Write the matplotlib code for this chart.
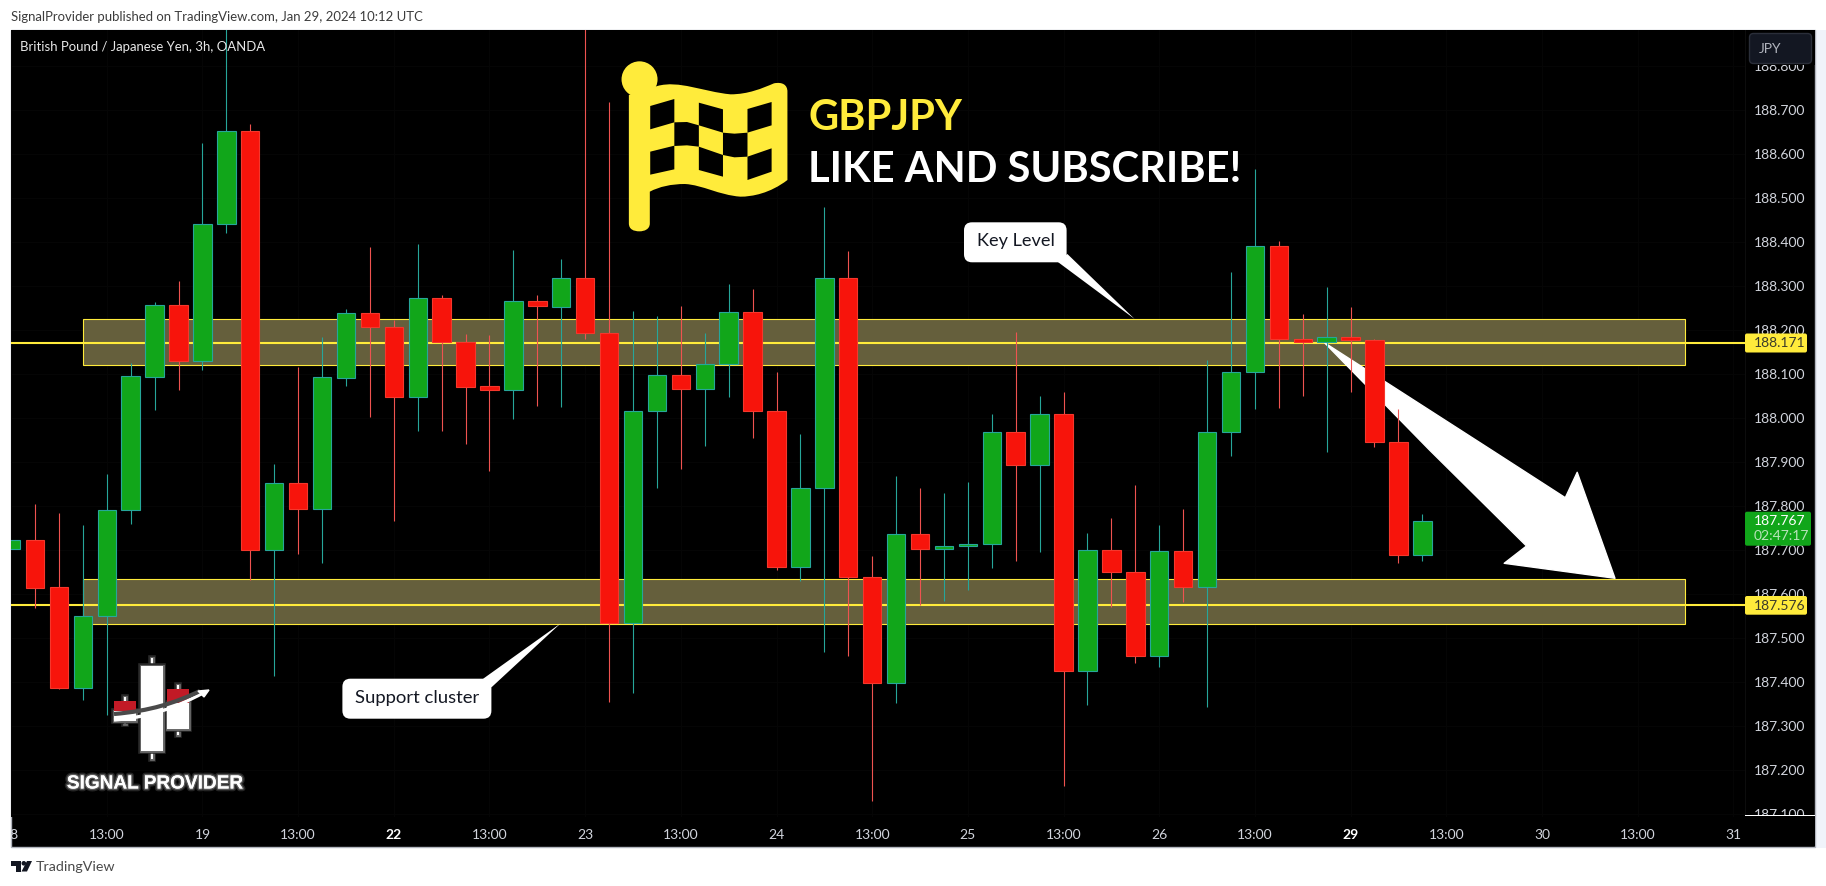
import matplotlib
matplotlib.use("Agg")
import matplotlib.pyplot as plt
import matplotlib.patheffects as pe
from matplotlib.patches import Rectangle, Polygon, FancyBboxPatch, Circle, PathPatch
from matplotlib.path import Path
from matplotlib.transforms import Affine2D, Bbox, TransformedBbox, IdentityTransform

W, H = 1826, 886

# 3h candles, one row per bar
opens = [187.703, 187.723, 187.616, 187.387, 187.549, 187.792, 188.094, 188.258, 188.130, 188.440,
         188.652, 187.701, 187.852, 187.794, 188.092, 188.238, 188.206, 188.048, 188.272, 188.173,
         188.072, 188.064, 188.265, 188.253, 188.318, 188.193, 187.535, 188.015, 188.097, 188.065,
         188.122, 188.240, 188.017, 187.662, 187.840, 188.318, 187.639, 187.398, 187.736, 187.703,
         187.708, 187.713, 187.968, 187.894, 188.008, 187.424, 187.699, 187.651, 187.460, 187.697,
         187.615, 187.968, 188.104, 188.392, 188.179, 188.173, 188.183, 188.177, 187.945, 187.689]
closes = [187.723, 187.614, 187.387, 187.549, 187.792, 188.095, 188.258, 188.130, 188.440, 188.652,
          187.701, 187.852, 187.794, 188.093, 188.238, 188.206, 188.048, 188.272, 188.173, 188.071,
          188.064, 188.265, 188.254, 188.318, 188.193, 187.535, 188.015, 188.097, 188.065, 188.122,
          188.240, 188.017, 187.662, 187.840, 188.318, 187.639, 187.398, 187.736, 187.703, 187.708,
          187.713, 187.968, 187.894, 188.008, 187.424, 187.699, 187.651, 187.460, 187.697, 187.615,
          187.968, 188.104, 188.392, 188.179, 188.173, 188.183, 188.177, 187.945, 187.689, 187.767]
highs = [187.723, 187.805, 187.784, 187.757, 187.873, 188.124, 188.264, 188.311, 188.625, 188.950,
         188.668, 187.895, 188.116, 188.184, 188.248, 188.389, 188.223, 188.395, 188.280, 188.191,
         188.189, 188.382, 188.280, 188.361, 188.950, 188.718, 188.243, 188.232, 188.255, 188.194,
         188.305, 188.293, 188.105, 187.964, 188.480, 188.380, 187.686, 187.868, 187.841, 187.830,
         187.855, 188.009, 188.195, 188.050, 188.059, 187.739, 187.773, 187.848, 187.757, 187.793,
         188.132, 188.332, 188.566, 188.402, 188.236, 188.298, 188.252, 188.180, 188.020, 187.782]
lows = [187.703, 187.569, 187.384, 187.358, 187.325, 187.760, 188.018, 188.064, 188.109, 188.421,
        187.631, 187.414, 187.691, 187.671, 188.073, 188.003, 187.766, 187.970, 187.970, 187.941,
        187.880, 187.998, 188.027, 188.025, 188.180, 187.355, 187.376, 187.842, 187.885, 187.937,
        188.048, 187.955, 187.655, 187.630, 187.467, 187.460, 187.130, 187.353, 187.575, 187.585,
        187.610, 187.658, 187.676, 187.696, 187.164, 187.348, 187.571, 187.444, 187.435, 187.582,
        187.344, 187.914, 188.021, 188.023, 188.051, 187.923, 188.060, 187.935, 187.671, 187.676]

x_ticks = list(range(0, 73, 4))
x_labels = ["18", "13:00", "19", "13:00", "22", "13:00", "23", "13:00", "24", "13:00",
            "25", "13:00", "26", "13:00", "29", "13:00", "30", "13:00", "31"]
y_ticks = [187.1, 187.2, 187.3, 187.4, 187.5, 187.6, 187.7, 187.8, 187.9, 188.0,
           188.1, 188.2, 188.3, 188.4, 188.5, 188.6, 188.7, 188.8]

zone_high = [188.224, 187.633]
zone_low = [188.121, 187.531]
zone_start = 3
zone_end = 70
levels = [188.171, 187.576]
last_price = 187.767

YELLOW = "#ffeb3b"
GREEN = "#11a61a"
RED = "#f7140b"
FONT = "Lato"

plt.rcParams["font.family"] = FONT

fig = plt.figure(figsize=(W / 100, H / 100), dpi=100, facecolor="white")
# pixel coordinates of the picture, y going down, for everything that is not price data
PX = Affine2D().scale(1, -1).translate(0, H)

fig.add_artist(Rectangle((1815, 30), 11, 818, transform=PX, fc="#f0f3fa", ec="none", zorder=-3))
fig.add_artist(Rectangle((10.5, 30), 1804.5, 816.5, transform=PX, fc="black", ec="#b2b5be", lw=1, zorder=-2))

ax = fig.add_axes([11 / W, (H - 817) / H, 1734 / W, 787 / H], facecolor="black", zorder=1)
for s in ax.spines.values():
    s.set_visible(False)

ids = list(range(len(opens)))
up = [c > o for o, c in zip(opens, closes)]
ax.vlines(ids, lows, highs, colors=["#26a69a" if u else "#ef5350" for u in up], lw=0.8, zorder=3)
ax.bar(ids, [c - o for o, c in zip(opens, closes)], bottom=opens, width=0.77,
       color=[GREEN if u else RED for u in up],
       edgecolor=["#26a69a" if u else "#f5372c" for u in up], linewidth=0.8, zorder=4)

for hi, lo in zip(zone_high, zone_low):
    ax.add_patch(Rectangle((zone_start, lo), zone_end - zone_start, hi - lo,
                           fc="#655f3c", ec=YELLOW, lw=0.8, zorder=1))
for lv in levels:
    ax.axhline(lv, color=YELLOW, lw=1.5, zorder=2)

# big white arrow, under the candles
arrow = [(1324.5, 342.7), (1491.4, 450), (1565.3, 497.7), (1577.2, 472.3), (1615, 578.3),
         (1504.2, 563.3), (1526.5, 546), (1429.5, 450)]
ax.add_patch(Polygon(arrow, closed=True, transform=PX, fc="white", ec="white", lw=1, joinstyle="round", zorder=2.5))

ax.set_xlim(-0.004, 72.49)
ax.set_ylim(187.093, 188.882)
ax.grid(True, color="#050505", lw=1)
ax.set_axisbelow(True)

ax.set_xticks(x_ticks)
ax.set_xticklabels(x_labels, fontsize=10, color="#d1d4dc")
ax.yaxis.tick_right()
ax.set_yticks(y_ticks)
ax.set_yticklabels(["%.3f" % v for v in y_ticks], fontsize=10, color="#d1d4dc")
ax.tick_params(axis="x", length=0, pad=8.7)
ax.tick_params(axis="y", length=0, pad=6.2)
for lab in ax.get_xticklabels():
    if lab.get_text() in ("22", "29"):
        lab.set_fontweight("bold")
        lab.set_color("white")
first = ax.get_xticklabels()[0]
first.set_clip_on(True)
first.set_clip_box(TransformedBbox(Bbox([[11, 0], [W, H]]), IdentityTransform()))


def add(artist, z=6):
    artist.set_zorder(z)
    fig.add_artist(artist)
    return artist


def label(x, y, s, z=8, **kw):
    kw.setdefault("ha", "left")
    kw.setdefault("va", "center")
    return fig.text(x, y, s, transform=PX, zorder=z, **kw)


# clipped ends of the price scale, separators
add(Rectangle((1745, 30), 70, 35, transform=PX, fc="black", ec="none"), 5)
add(Rectangle((1745, 815), 70, 31, transform=PX, fc="black", ec="none"), 5)
add(Rectangle((1745, 814.5), 70, 1, transform=PX, fc="white", ec="none"), 5.5)
add(Rectangle((1745, 30), 0.8, 786, transform=PX, fc="#0d0d0d", ec="none"), 5)
add(Rectangle((11, 816.5), 1734, 0.8, transform=PX, fc="#0d0d0d", ec="none"), 5)

# JPY button
add(FancyBboxPatch((1752, 36), 57, 25, boxstyle="round,pad=2.5,rounding_size=4", transform=PX,
                   fc="#131722", ec="#2a2e39", lw=1))
label(1759, 48.7, "JPY", fontsize=10, color="#b2b5be")

# price tags
add(FancyBboxPatch((1745, 333.5), 62, 19, boxstyle="round,pad=0,rounding_size=2", transform=PX, fc=YELLOW, ec="none"))
label(1754, 343.2, "188.171", fontsize=10, color="#3a3a2a")
add(FancyBboxPatch((1745, 596), 62, 18.7, boxstyle="round,pad=0,rounding_size=2", transform=PX, fc=YELLOW, ec="none"))
label(1754, 605.5, "187.576", fontsize=10, color="#3a3a2a")
add(FancyBboxPatch((1745, 511.7), 66, 34, boxstyle="round,pad=0,rounding_size=2", transform=PX, fc=GREEN, ec="none"))
label(1754, 521.3, "%.3f" % last_price, fontsize=10, color="white")
label(1753.5, 536.3, "02:47:17", fontsize=10, color="#b9e4bb")

# header, footer
label(11, 16.7, "SignalProvider published on TradingView.com, Jan 29, 2024 10:12 UTC", fontsize=9.45, color="#3c3c3c")
label(20, 46.7, "British Pound / Japanese Yen, 3h, OANDA", fontsize=9.45, color="#e8e8e8")
label(36, 867, "TradingView", fontsize=10.3, color="#4a4a4a")
add(Polygon([(11, 861), (21, 861), (21, 871.5), (16, 871.5), (16, 866), (11, 866)], transform=PX, fc="#131722", ec="none"))
add(Polygon([(27, 861), (32, 861), (27, 871.5), (21.5, 871.5)], transform=PX, fc="#131722", ec="none"))
add(Circle((23.8, 863.3), 2.3, transform=PX, fc="#131722", ec="none"))


def fz(x, y):
    return (600 + x / 2.529, y / 3)


outer = [
    (Path.MOVETO, fz(73, 285)), (Path.LINETO, fz(145, 258)),
    (Path.CURVE4, fz(200, 240)), (Path.CURVE4, fz(260, 275)), (Path.CURVE4, fz(330, 283)),
    (Path.CURVE4, fz(375, 283)), (Path.CURVE4, fz(410, 265)), (Path.CURVE4, fz(440, 250)),
    (Path.CURVE4, fz(462, 245)), (Path.CURVE4, fz(474, 255)), (Path.CURVE4, fz(474, 275)),
    (Path.LINETO, fz(474, 540)),
    (Path.CURVE4, fz(430, 580)), (Path.CURVE4, fz(385, 590)), (Path.CURVE4, fz(355, 590)),
    (Path.CURVE4, fz(300, 585)), (Path.CURVE4, fz(260, 555)), (Path.CURVE4, fz(215, 552)),
    (Path.CURVE4, fz(180, 552)), (Path.CURVE4, fz(150, 560)), (Path.CURVE4, fz(126, 575)),
    (Path.LINETO, fz(126, 670)),
    (Path.CURVE4, fz(126, 688)), (Path.CURVE4, fz(112, 694)), (Path.CURVE4, fz(100, 694)),
    (Path.CURVE4, fz(85, 694)), (Path.CURVE4, fz(73, 688)), (Path.CURVE4, fz(73, 670)),
    (Path.CLOSEPOLY, fz(73, 285)),
]
add(PathPatch(Path([p for c, p in outer], [c for c, p in outer]), transform=PX, fc=YELLOW, ec="none"))
add(Circle(fz(100, 238), 18, transform=PX, fc=YELLOW, ec="none"))
cells = [
    [(127, 318), (188, 297), (188, 367), (127, 388)],
    [(250, 308), (311, 328), (311, 398), (250, 376)],
    [(373, 327), (434, 306), (434, 376), (373, 398)],
    [(188, 367), (220, 366), (250, 376), (250, 440), (220, 436), (188, 438)],
    [(311, 398), (340, 401), (373, 398), (373, 470), (340, 472), (311, 465)],
    [(127, 455), (188, 437), (188, 508), (127, 524)],
    [(250, 440), (311, 465), (311, 530), (250, 510)],
    [(373, 470), (434, 445), (434, 515), (373, 540)],
]
for c in cells:
    add(Polygon([fz(*p) for p in c], transform=PX, fc="black", ec="none"), 7)

label(808, 117.5, "GBPJPY", fontsize=30, fontweight="bold", color=YELLOW)
label(808, 169.5, "LIKE AND SUBSCRIBE!", fontsize=30, fontweight="bold", color="white")

# callouts
add(FancyBboxPatch((970, 228.3), 90.6, 28, boxstyle="round,pad=6,rounding_size=8", transform=PX, fc="white", ec="none"))
add(Polygon([(1057.9, 262), (1067.4, 254), (1134.6, 319)], transform=PX, fc="white", ec="none"))
label(1015.5, 241, "Key Level", ha="center", fontsize=13.1, color="#131722")
add(FancyBboxPatch((348.4, 684.7), 137, 28, boxstyle="round,pad=6,rounding_size=8", transform=PX, fc="white", ec="none"))
add(Polygon([(483.2, 678.7), (491.5, 687.3), (560.7, 623.3)], transform=PX, fc="white", ec="none"))
label(417, 698, "Support cluster", ha="center", fontsize=13.3, color="#131722")

# SIGNAL PROVIDER logo, soft edge from two wider strokes under the white shapes
glow = [pe.withStroke(linewidth=4, foreground="#2a2a2a"), pe.withStroke(linewidth=2, foreground="#6a6a6a")]
for x, y0, y1 in [(151.8, 658, 759), (125, 697, 724), (178, 685, 735)]:
    add(Rectangle((x - 1, y0), 2, y1 - y0, transform=PX, fc="white", ec="none", path_effects=glow), 5.9)
for x, y, w, h in [(113.9, 711, 22.1, 10), (167.3, 703, 21.7, 26), (140.8, 665.7, 22.1, 85)]:
    add(Rectangle((x, y), w, h, transform=PX, fc="white", ec="none", path_effects=glow), 6)
add(Rectangle((113.9, 701), 22.1, 10, transform=PX, fc="#c21a26", ec="none"), 6.3)
add(Rectangle((167.3, 689), 21.7, 14, transform=PX, fc="#c21a26", ec="none"), 6.3)
swoosh_low = Path([(114, 720), (150, 717), (175, 708), (203, 693)], [Path.MOVETO, Path.CURVE4, Path.CURVE4, Path.CURVE4])
swoosh_up = Path([(114, 714), (150, 711), (175, 703), (200, 691)], [Path.MOVETO, Path.CURVE4, Path.CURVE4, Path.CURVE4])
add(PathPatch(swoosh_low, transform=PX, fc="none", ec="white", lw=2.4), 6.4)
add(PathPatch(swoosh_up, transform=PX, fc="none", ec="#4a4a4a", lw=3), 6.5)
add(Polygon([(209, 690), (198, 691), (204, 697)], transform=PX, fc="white", ec="white", lw=1), 6.6)
label(154.5, 784, "SIGNAL PROVIDER", ha="center", fontsize=13.7, fontweight="bold", family="Liberation Sans", color="white",
      path_effects=[pe.withStroke(linewidth=4, foreground="#242424"), pe.withStroke(linewidth=2, foreground="#5a5a5a"),
                    pe.Normal()])

fig.savefig("out.png", dpi=100)
